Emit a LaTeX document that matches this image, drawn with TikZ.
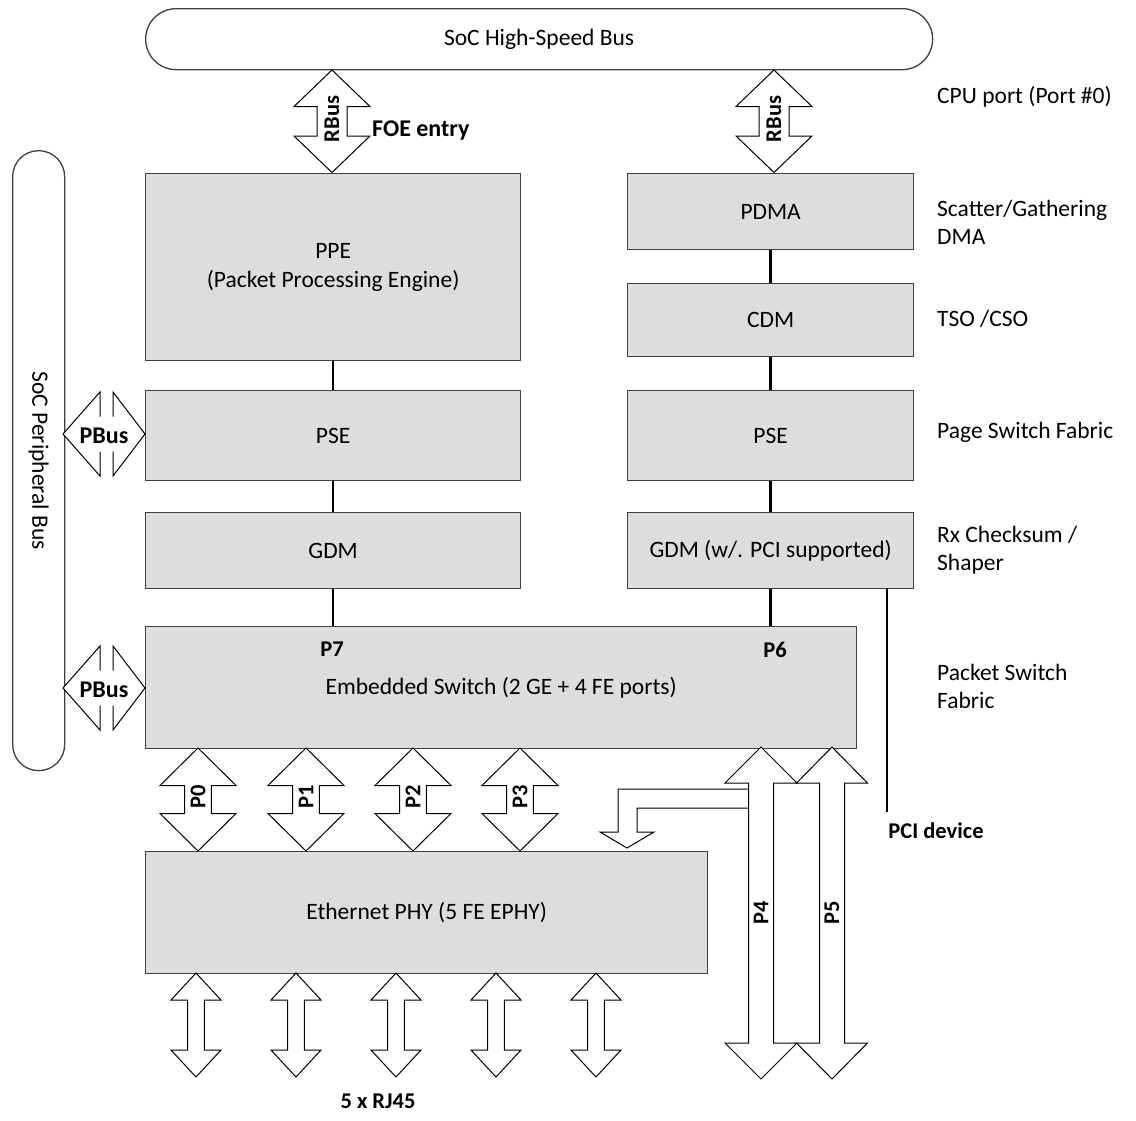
\documentclass[tikz,border=0pt]{standalone}
\usepackage{fontspec}
\setmainfont{Carlito}
\definecolor{boxgray}{RGB}{221,221,221}
\definecolor{boxline}{RGB}{64,64,64}
\newcommand{\myfs}{\fontsize{23.5}{28}\selectfont}
\newcommand{\myfsb}{\fontsize{22.5}{28}\selectfont\bfseries}
% vertical double arrow: x, top, bottom, head half width, shaft half width, head length
\newcommand{\vdarrow}[6]{%
  \draw[arr] (#1,#2) -- (#1+#4,#2+#6) -- (#1+#5,#2+#6) -- (#1+#5,#3-#6) -- (#1+#4,#3-#6)
    -- (#1,#3) -- (#1-#4,#3-#6) -- (#1-#5,#3-#6) -- (#1-#5,#2+#6) -- (#1-#4,#2+#6) -- cycle;}
% horizontal PBus arrow heads at height y
\newcommand{\pbusarrow}[1]{%
  \draw[arr] (100,#1-17.5) -- (100,#1-42) -- (63,#1) -- (100,#1+42) -- (100,#1+17.5);
  \draw[arr] (113,#1-17.5) -- (113,#1-42) -- (145,#1) -- (113,#1+42) -- (113,#1+17.5);}
\begin{document}
\begin{tikzpicture}[x=1pt,y=-1pt,
  box/.style={draw=boxline, fill=boxgray, line width=1.3pt, inner sep=0pt,
              anchor=north west, align=center, font=\myfs},
  bus/.style={draw=boxline, fill=white, line width=1.3pt, inner sep=0pt,
              anchor=north west, font=\myfs},
  conn/.style={line width=2.6pt, draw=black},
  arr/.style={draw=black, fill=white, line width=1pt, line join=miter},
  lbl/.style={font=\myfs, anchor=west, align=left, inner sep=0pt},
  blbl/.style={font=\myfsb, inner sep=0pt}]
\useasboundingbox (0,0) rectangle (1136,1120);

% buses
\node[bus, minimum width=787, minimum height=61, rounded corners=30.5] (hsbus) at (145,8) {SoC High-Speed Bus};
\node[bus, minimum width=52, minimum height=620, rounded corners=26] (pbus) at (12,150) {};
\node[font=\myfs, rotate=-90, inner sep=0pt] (pbustxt) at (pbus.center) {SoC Peripheral Bus};

% boxes
\node[box, minimum width=375, minimum height=187, font=\fontsize{23.5}{29}\selectfont] (ppe) at (145,173) {PPE\\(Packet Processing Engine)};
\node[box, minimum width=375, minimum height=90] (psel) at (145,390) {PSE};
\node[box, minimum width=375, minimum height=76] (gdml) at (145,512) {GDM};
\node[box, minimum width=711, minimum height=122] (sw) at (145,626) {Embedded Switch (2 GE + 4 FE ports)};
\node[box, minimum width=286, minimum height=76] (pdma) at (627,173) {PDMA};
\node[box, minimum width=286, minimum height=73] (cdm) at (627,283) {CDM};
\node[box, minimum width=286, minimum height=90] (pser) at (627,390) {PSE};
\node[box, minimum width=286, minimum height=76] (gdmr) at (627,512) {GDM (w/. PCI supported)};
\node[box, minimum width=562, minimum height=122] (phy) at (145,851) {Ethernet PHY (5 FE EPHY)};

% connectors
\draw[conn] (ppe.south) -- (psel.north);
\draw[conn] (psel.south) -- (gdml.north);
\draw[conn] (gdml.south) -- (gdml.south |- sw.north);
\draw[conn] (pdma.south) -- (cdm.north);
\draw[conn] (cdm.south) -- (pser.north);
\draw[conn] (pser.south) -- (gdmr.north);
\draw[conn] (gdmr.south) -- (gdmr.south |- sw.north);
\coordinate (pcitop) at (887,588);
\coordinate (pciend) at (887,812);
\draw[conn] (pcitop) -- (pciend);

% RBus arrows
\vdarrow{332}{70}{172.5}{38}{15}{36.5}
\vdarrow{774}{70}{172.5}{38}{15}{36.5}
\node[blbl, rotate=90] (rbus1) at (332,119) {RBus};
\node[blbl, rotate=90] (rbus2) at (774,119) {RBus};
\node[blbl, font=\fontsize{24}{28}\selectfont\bfseries, anchor=west] (foe) at (372,131) {FOE entry};

% PBus arrows
\pbusarrow{434}
\pbusarrow{688}
\node[blbl, font=\fontsize{24}{28}\selectfont\bfseries] (pb1) at (104,436) {PBus};
\node[blbl, font=\fontsize{24}{28}\selectfont\bfseries] (pb2) at (104,690) {PBus};

% P0-P3
\vdarrow{198}{748}{851}{38}{13.3}{37.5}
\vdarrow{306}{748}{851}{38}{13.3}{37.5}
\vdarrow{413}{748}{851}{38}{13.3}{37.5}
\vdarrow{520}{748}{851}{38}{13.3}{37.5}
\node[blbl, rotate=90] (p0) at (198,797) {P0};
\node[blbl, rotate=90] (p1) at (306,797) {P1};
\node[blbl, rotate=90] (p2) at (413,797) {P2};
\node[blbl, rotate=90] (p3) at (520,797) {P3};

% bent arrow from P4 to PHY
\draw[arr] (748.5,789) -- (618,789) -- (618,832) -- (600,832) -- (627,848) -- (654,832) -- (637,832) -- (637,808) -- (748.5,808);

% P4, P5
\vdarrow{761}{747}{1079}{36}{12.5}{36}
\vdarrow{832}{747}{1079}{35.5}{12.5}{36}
\node[blbl, rotate=90] (p4) at (761,913) {P4};
\node[blbl, rotate=90] (p5) at (832,913) {P5};

% RJ45 arrows
\vdarrow{196}{973}{1077}{25}{8.3}{27}
\vdarrow{296}{973}{1077}{25}{8.3}{27}
\vdarrow{396}{973}{1077}{25}{8.3}{27}
\vdarrow{496}{973}{1077}{25}{8.3}{27}
\vdarrow{596}{973}{1077}{25}{8.3}{27}
\node[blbl] (rj) at (378,1101) {5 x RJ45};

% port labels on switch
\node[blbl] (p7) at (332,649) {P7};
\node[blbl] (p6) at (775,650) {P6};

% PCI device
\node[blbl] (pci) at (936,831) {PCI device};

% right-hand labels
\node[lbl] (l1) at (937,97) {CPU port (Port \#0)};
\node[lbl] (l2) at (937,222) {Scatter/Gathering\\DMA};
\node[lbl] (l3) at (937,319) {TSO /CSO};
\node[lbl] (l4) at (937,432) {Page Switch Fabric};
\node[lbl] (l5) at (937,550) {Rx Checksum /\\Shaper};
\node[lbl] (l6) at (937,686) {Packet Switch\\Fabric};
\end{tikzpicture}
\end{document}
